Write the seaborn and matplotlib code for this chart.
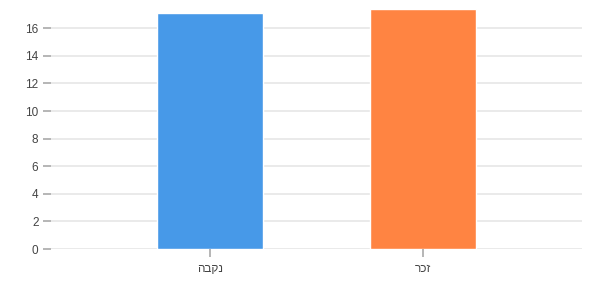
import matplotlib
matplotlib.use("Agg")
import matplotlib.pyplot as plt
import seaborn as sns
import pandas as pd

categories = ["נקבה", "זכר"]
values = [17.1, 17.4]
colors = ["#4799E8", "#FF8442"]
yticks = [0, 2, 4, 6, 8, 10, 12, 14, 16]

sns.set_style("white")
plt.rcParams['font.family'] = ['Liberation Sans', 'DejaVu Sans']

fig = plt.figure(figsize=(5.92, 3.0), dpi=100)
ax = fig.add_axes([51/592, 51/300, (582-51)/592, (249-9)/300])

df = pd.DataFrame({"cat": categories, "val": values})
sns.barplot(data=df, x="cat", y="val", hue="cat", palette=colors, width=0.5,
            saturation=1, legend=False, ax=ax, zorder=3)

ax.set_xlim(-0.75, 1.75)
ax.set_ylim(0, max(values))
ax.set_yticks(yticks)
ax.set_xticks(range(len(categories)))
# matplotlib has no bidi support: reverse Hebrew for visual RTL order
ax.set_xticklabels([c[::-1] for c in categories])
ax.yaxis.grid(True, color="#e8e8e8", linewidth=1.3, zorder=0)
ax.set_axisbelow(True)
for s in ax.spines.values():
    s.set_visible(False)
ax.tick_params(axis="y", length=6, width=1.3, color="#b0b0b0", pad=3,
               labelsize=8.5, labelcolor="#444444", left=True)
ax.tick_params(axis="x", length=6, width=1.3, color="#b0b0b0", pad=4,
               labelsize=8.5, labelcolor="#444444", bottom=True)
ax.set_xlabel("")
ax.set_ylabel("")

fig.savefig("out.png", dpi=100)
